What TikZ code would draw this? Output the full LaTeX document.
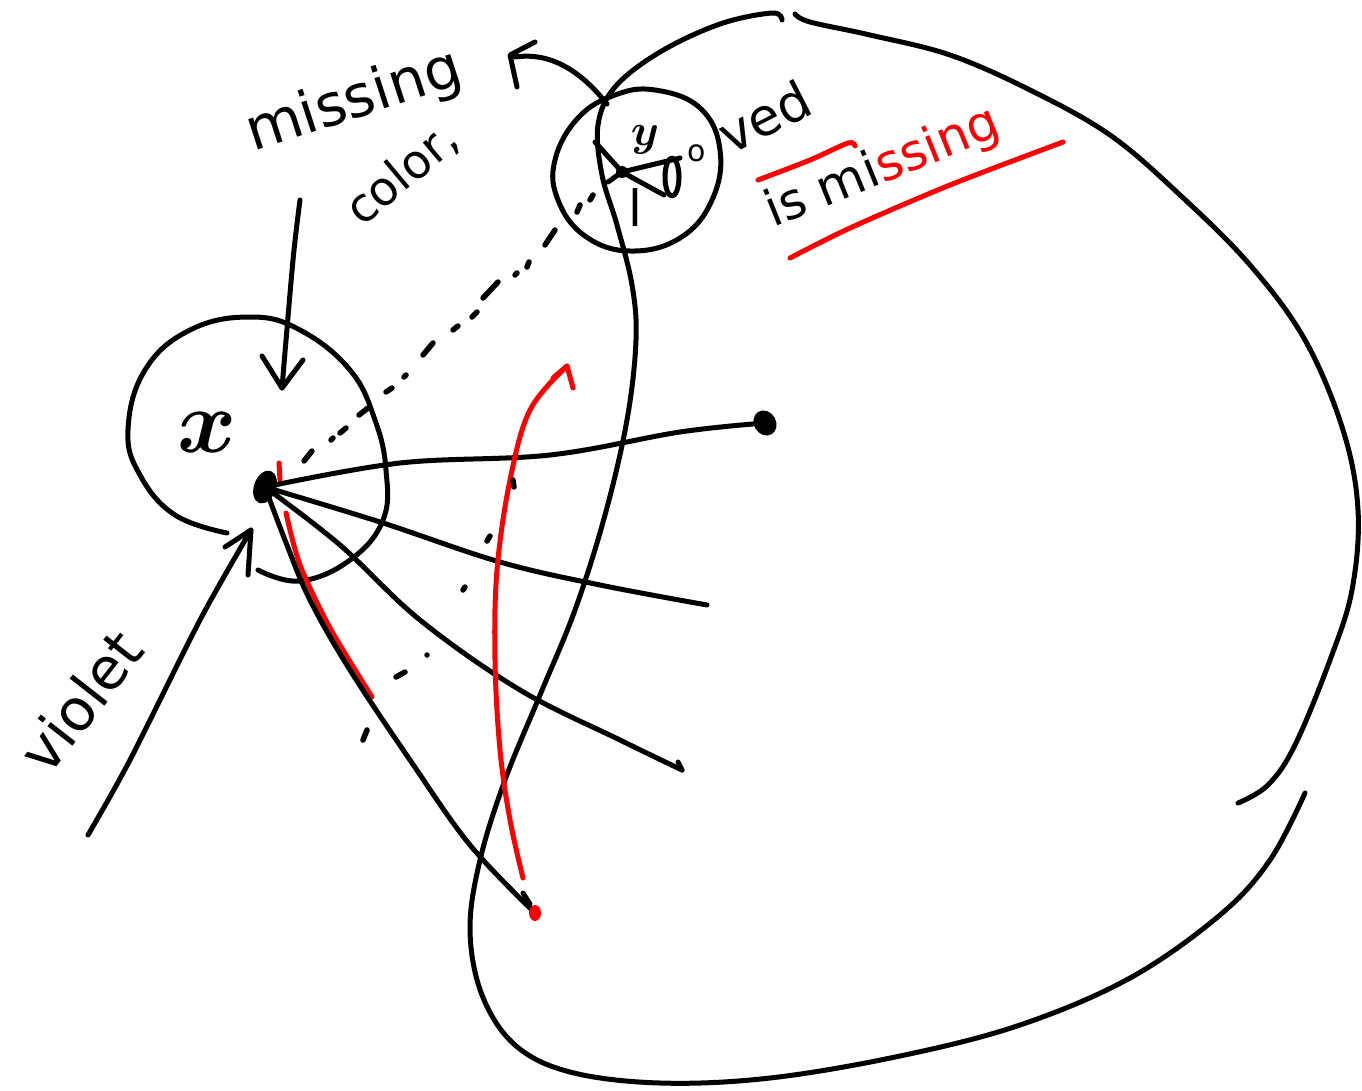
\documentclass[tikz,border=0pt]{standalone}
\usepackage{fontspec}
\usepackage{graphicx}
\setmainfont{DejaVu Sans}
\begin{document}
\begin{tikzpicture}[x=1pt,y=-1pt,line cap=round,line join=round,
  ink/.style={line width=5pt,black},
  redink/.style={line width=5pt,red},
  hand/.style={inner sep=0pt,anchor=base west},
  dots/.style={line width=5.5pt,black}]
\useasboundingbox (0,0) rectangle (1362,1090);

% named points
\coordinate (xdot) at (265,487);
\coordinate (ydot) at (622,172);
\coordinate (enddot) at (765,423);
\coordinate (reddot) at (535,913);
\coordinate (e2) at (707,605);
\coordinate (e3) at (682,770);
\coordinate (ra) at (523,878);
\coordinate (rb) at (567,366);
\coordinate (ma) at (300,200);
\coordinate (mb) at (282,388);
\coordinate (va) at (88,835);
\coordinate (vb) at (251,530);
\coordinate (ytop) at (607,104);
\coordinate (ybend) at (515,57);

% big outline (left part)
\draw[ink] plot[smooth,tension=0.6] coordinates {(782,20) (772,13) (720,24) (660,52) (615,87) (598,125) (602,175) (617,225) (632,285) (636,340) (627,420) (605,515) (575,610) (540,695) (505,780) (480,860) (470,930) (482,995) (515,1045) (570,1072) (660,1083) (770,1078) (900,1056) (1020,1025) (1130,978) (1220,915) (1270,860) (1305,793)};
% big outline (right part)
\draw[ink] plot[smooth,tension=0.6] coordinates {(795,14) (810,22) (870,35) (950,55) (1030,90) (1110,135) (1180,195) (1250,265) (1305,340) (1343,430) (1358,510) (1352,590) (1330,660) (1295,745) (1268,785) (1238,803)};

% x blob
\draw[ink] plot[smooth,tension=0.7] coordinates {(258,570) (300,581) (350,560) (383,520) (386,470) (375,420) (350,370) (300,330) (250,317) (190,330) (145,370) (128,430) (140,475) (175,515) (227,533)};
\node (xlabel) at (207,432) {\scalebox{9}{\boldmath$x$}};

% y circle
\draw[ink] plot[smooth cycle,tension=0.7] coordinates {(655,90) (700,108) (720,150) (712,200) (680,238) (630,251) (585,236) (558,200) (555,160) (578,118) (615,95)};
\fill (ydot) circle (6);
\draw[ink] (595,142) -- (ydot) -- (608,182);
\draw[ink] (ydot) -- (680,158);
\draw[ink] (ydot) -- (664,195);
\draw[ink] (672,177) ellipse [x radius=7, y radius=19];
\node (ylabel) at (645,140) {\scalebox{4.5}{\boldmath$y$}};
\node[hand] (lo) at (628,226) {\fontsize{50}{50}\selectfont l};
\node (olab) at (697,153) {\fontsize{30}{30}\selectfont o};
\node[hand,rotate=27] (ved) at (730,156) {\fontsize{52}{52}\selectfont ved};

% red text & underlines
\node[hand,rotate=22] (ismissing) at (773,228) {\fontsize{50}{50}\selectfont is mi\textcolor{red}{ssing}};
\draw[redink] plot[smooth] coordinates {(758,180) (810,160) (848,143) (855,146)};
\draw[redink] plot[smooth] coordinates {(790,258) (850,228) (950,185) (1063,142)};

% missing color label and arrow
\node[hand,rotate=18] (missing) at (253,152) {\fontsize{58}{58}\selectfont missing};
\node[hand,rotate=40] (color) at (362,228) {\fontsize{47}{47}\selectfont color,};
\draw[ink] plot[smooth] coordinates {(ma) (293,260) (mb)};
\draw[ink] (262,356) -- (mb) -- (303,360);

% violet label and arrow
\node[hand,rotate=52] (violet) at (48,778) {\fontsize{58}{58}\selectfont violet};
\draw[ink] plot[smooth] coordinates {(va) (130,760) (200,620) (vb)};
\draw[ink] (225,547) -- (vb) -- (248,575);

% curved arrow from y circle
\draw[ink] (ytop) .. controls (580,70) and (550,52) .. (ybend);
\draw[ink] (535,42) -- (510,55) -- (517,87);

% dotted link from x dot to y dot
\draw[dots] (304,461)--(312,451) (331,440)--(333,438) (340,433)--(346,428) (359,415)--(368,408) (386,392)--(392,388) (404,377)--(406,375)
 (423,355)--(433,343) (453,330)--(458,326) (472,317)--(477,312) (483,298)--(498,282) (515,275)--(517,273) (527,267)--(529,262) (545,245)--(555,230) (577,212)--(580,205) (590,200)--(593,195);

% red overlay near x dot
\draw[redink] (279,463) -- (280,480);
\draw[redink] plot[smooth] coordinates {(286,513) (300,565) (330,628) (372,697)};

% rays from x dot
\draw[ink] plot[smooth,tension=0.6] coordinates {(xdot) (400,463) (550,455) (680,432) (enddot)};
\fill[rotate around={30:(enddot)}] (enddot) ellipse [x radius=11, y radius=13];
\draw[ink] plot[smooth,tension=0.6] coordinates {(xdot) (380,522) (500,562) (600,585) (e2)};
\draw[ink] plot[smooth,tension=0.6] coordinates {(xdot) (340,545) (420,620) (520,690) (620,740) (e3)};
\draw[ink] (e3) -- (678,762);
\draw[ink] plot[smooth,tension=0.6] coordinates {(xdot) (285,540) (310,600) (350,670) (410,760) (470,845) (reddot)};
\draw[ink] (523,893) -- (530,904);
\fill[rotate around={-20:(xdot)}] (xdot) ellipse [x radius=11, y radius=17];
\fill[red] (reddot) ellipse [x radius=6, y radius=8];

% red arrow
\draw[redink] plot[smooth,tension=0.6] coordinates {(ra) (510,820) (500,750) (495,660) (497,570) (510,480) (530,410) (rb)};
\draw[redink] (553,378) -- (rb) -- (573,388);

% scattered dots
\draw[dots] (513,480)--(514,487) (487,541)--(490,536) (463,590)--(465,587) (427,655)--(427,655) (396,677)--(405,672) (363,740)--(367,730);
\end{tikzpicture}
\end{document}
